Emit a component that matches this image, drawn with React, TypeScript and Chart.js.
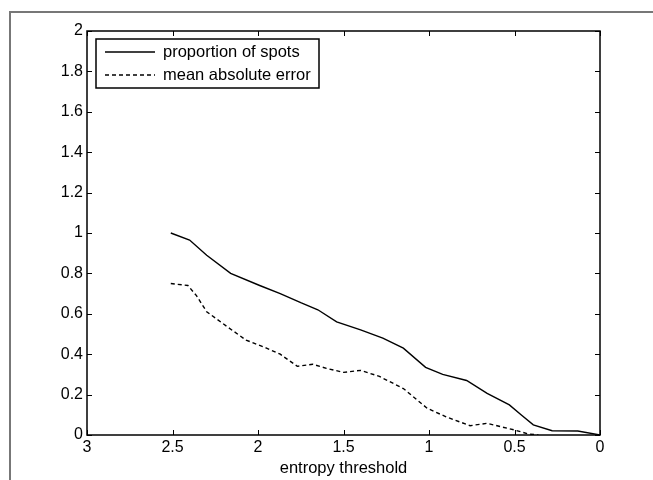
import React, { useEffect, useRef } from "react";
import { Chart, registerables } from "chart.js";

Chart.register(...registerables);

const seriesNames = ["proportion of spots", "mean absolute error"];

const propX = [2.51, 2.4, 2.3, 2.16, 1.99, 1.87, 1.75, 1.65, 1.54, 1.4, 1.27, 1.15, 1.02, 0.92, 0.78, 0.66, 0.53, 0.46, 0.39, 0.28, 0.13, 0.0];
const propY = [1.0, 0.965, 0.89, 0.8, 0.74, 0.7, 0.655, 0.62, 0.56, 0.52, 0.48, 0.43, 0.335, 0.3, 0.27, 0.206, 0.149, 0.099, 0.05, 0.021, 0.02, 0.0];

const errX = [2.51, 2.41, 2.36, 2.3, 2.18, 2.07, 1.95, 1.87, 1.77, 1.68, 1.6, 1.5, 1.4, 1.29, 1.15, 1.01, 0.9, 0.76, 0.66, 0.58, 0.5, 0.42, 0.36];
const errY = [0.75, 0.74, 0.69, 0.61, 0.536, 0.47, 0.43, 0.4, 0.34, 0.35, 0.33, 0.31, 0.32, 0.29, 0.23, 0.132, 0.09, 0.046, 0.058, 0.041, 0.025, 0.005, 0.0];

const xTicks = [0, 0.5, 1, 1.5, 2, 2.5, 3];
const yTicks = [0, 0.2, 0.4, 0.6, 0.8, 1, 1.2, 1.4, 1.6, 1.8, 2];
const xTitle = "entropy threshold";

const FONT = "'Liberation Sans', Arial, sans-serif";

const framePlugin = {
  id: "framePlugin",
  beforeDraw(chart: any) {
    const ctx = chart.ctx;
    ctx.save();
    ctx.fillStyle = "#ffffff";
    ctx.fillRect(0, 0, chart.width, chart.height);
    ctx.strokeStyle = "#777777";
    ctx.lineWidth = 2;
    ctx.beginPath();
    ctx.moveTo(10, chart.height);
    ctx.lineTo(10, 12);
    ctx.lineTo(chart.width, 12);
    ctx.stroke();
    ctx.restore();
  },
  afterDraw(chart: any) {
    const ctx = chart.ctx;
    const { left, right, top, bottom } = chart.chartArea;
    const xs = chart.scales.x;
    const ys = chart.scales.y;
    ctx.save();
    ctx.strokeStyle = "#000";
    ctx.lineWidth = 1.5;
    ctx.strokeRect(left, top, right - left, bottom - top);
    const tl = 5;
    ctx.lineWidth = 1;
    ctx.beginPath();
    xTicks.forEach((v) => {
      const px = Math.round(xs.getPixelForValue(v)) + 0.5;
      ctx.moveTo(px, bottom);
      ctx.lineTo(px, bottom - tl);
      ctx.moveTo(px, top);
      ctx.lineTo(px, top + tl);
    });
    yTicks.forEach((v) => {
      const py = Math.round(ys.getPixelForValue(v)) + 0.5;
      ctx.moveTo(left, py);
      ctx.lineTo(left + tl, py);
      ctx.moveTo(right, py);
      ctx.lineTo(right - tl, py);
    });
    ctx.stroke();

    // legend
    const lx = left + 9, ly = top + 8, lw = 223, lh = 49;
    ctx.fillStyle = "#fff";
    ctx.fillRect(lx, ly, lw, lh);
    ctx.lineWidth = 1.5;
    ctx.strokeStyle = "#000";
    ctx.strokeRect(lx, ly, lw, lh);
    ctx.font = `16.5px ${FONT}`;
    ctx.fillStyle = "#000";
    ctx.textBaseline = "middle";
    chart.data.datasets.forEach((ds: any, i: number) => {
      const yy = ly + 13 + i * 23;
      ctx.save();
      ctx.lineWidth = 1.3;
      ctx.setLineDash(ds.borderDash || []);
      ctx.beginPath();
      ctx.moveTo(lx + 9, yy);
      ctx.lineTo(lx + 59, yy);
      ctx.stroke();
      ctx.restore();
      ctx.fillText(ds.label, lx + 67, yy);
    });
    ctx.restore();
  },
};

export default function App() {
  const ref = useRef<HTMLCanvasElement | null>(null);
  useEffect(() => {
    if (!ref.current) return;
    const chart = new Chart(ref.current, {
      type: "line",
      data: {
        datasets: [
          {
            label: seriesNames[0],
            data: propX.map((x, i) => ({ x, y: propY[i] })),
            borderColor: "#000",
            borderWidth: 1.4,
            pointRadius: 0,
            fill: false,
            tension: 0,
          },
          {
            label: seriesNames[1],
            data: errX.map((x, i) => ({ x, y: errY[i] })),
            borderColor: "#000",
            borderWidth: 1.4,
            borderDash: [4, 3],
            pointRadius: 0,
            fill: false,
            tension: 0,
          },
        ],
      },
      options: {
        animation: false,
        responsive: false,
        maintainAspectRatio: false,
        layout: { padding: { left: 0, right: 53, top: 31, bottom: 0 } },
        plugins: { legend: { display: false }, tooltip: { enabled: false } },
        scales: {
          x: {
            type: "linear",
            min: 0,
            max: 3,
            reverse: true,
            afterFit: (s: any) => {
              s.height = 45;
            },
            afterBuildTicks: (s: any) => {
              s.ticks = xTicks.map((v) => ({ value: v }));
            },
            grid: { display: false, drawTicks: false },
            border: { display: false },
            ticks: {
              color: "#000",
              padding: 3,
              maxRotation: 0,
              font: { family: FONT, size: 16 },
              callback: (v: any) => String(Number(Number(v).toFixed(1))),
            },
            title: {
              display: true,
              text: xTitle,
              color: "#000",
              font: { family: FONT, size: 16.5 },
              padding: { top: 0, bottom: 2 },
            },
          },
          y: {
            type: "linear",
            min: 0,
            max: 2,
            afterFit: (s: any) => {
              s.width = 87;
            },
            afterBuildTicks: (s: any) => {
              s.ticks = yTicks.map((v) => ({ value: v }));
            },
            grid: { display: false, drawTicks: false },
            border: { display: false },
            ticks: {
              color: "#000",
              padding: 4,
              font: { family: FONT, size: 16 },
              callback: (v: any) => String(Number(Number(v).toFixed(1))),
            },
          },
        },
      },
      plugins: [framePlugin],
    });
    return () => chart.destroy();
  }, []);
  return (
    <div style={{ position: "fixed", left: 0, top: 0, width: 653, height: 480, background: "#fff" }}>
      <canvas ref={ref} width={653} height={480} style={{ display: "block" }} />
    </div>
  );
}
